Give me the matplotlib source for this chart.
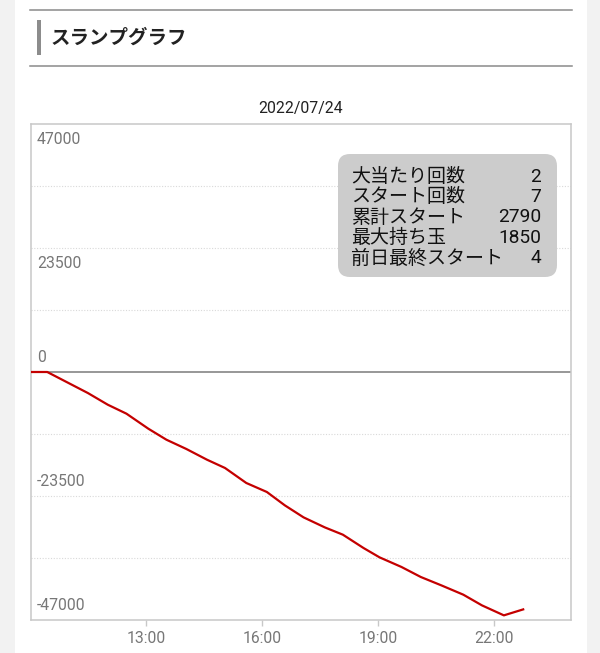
import matplotlib
matplotlib.use("Agg")
import matplotlib.pyplot as plt
from matplotlib.patches import Rectangle, FancyBboxPatch
from matplotlib.lines import Line2D
from matplotlib.transforms import Affine2D

# slump graph data (time -> balance)
times = ["10:00", "10:26", "11:29", "12:00", "12:29", "13:03", "13:31", "14:02",
         "14:34", "15:02", "15:35", "16:07", "16:35", "17:04", "17:37", "18:05",
         "18:37", "19:02", "19:36", "20:06", "20:38", "21:12", "21:41", "22:15", "22:45"]
balance = [0, 0, -3980, -6200, -7900, -10750, -12830, -14590,
           -16620, -18190, -21030, -22740, -25280, -27550, -29450, -30830,
           -33350, -35130, -36950, -38850, -40440, -42200, -44230, -46120, -44990]

x_ticks = [13, 16, 19, 22]
x_tick_labels = ["13:00", "16:00", "19:00", "22:00"]
y_labels = [47000, 23500, 0, -23500, -47000]
y_grid = [35250, 23500, 11750, -11750, -23500, -35250]

info_names = ["大当たり回数", "スタート回数", "累計スタート", "最大持ち玉", "前日最終スタート"]
info_values = ["2", "7", "2790", "1850", "4"]

title = "スランプグラフ"
date_label = "2022/07/24"

JP = ["Noto Sans CJK JP", "DejaVu Sans"]
NUM = ["Roboto", "DejaVu Sans"]

W, H = 600, 653
fig = plt.figure(figsize=(W / 100, H / 100), dpi=100)
fig.patch.set_facecolor("#f2f2f2")

# pixel coords from top-left
px = Affine2D().scale(1 / W, -1 / H).translate(0, 1) + fig.transFigure

fig.add_artist(Rectangle((15, 0), 572, H, transform=px, facecolor="white", edgecolor="none", zorder=0))

# header
fig.add_artist(Line2D([29.5, 572], [9.5, 9.5], transform=px, color="#8a8a8a", lw=1.1))
fig.add_artist(Line2D([29.5, 572], [65.5, 65.5], transform=px, color="#8a8a8a", lw=1.1))
fig.add_artist(Rectangle((36.5, 19.5), 4, 35.5, transform=px, facecolor="#8c8c8c", edgecolor="none"))
fig.text(51, 38, title, transform=px, family=JP, fontsize=14, fontweight="bold",
         color="#222222", va="center", ha="left")

ax = fig.add_axes([30.5 / W, 1 - 620 / H, 541 / W, 496 / H])
hours = [int(t.split(":")[0]) + int(t.split(":")[1]) / 60 for t in times]
ax.plot(hours, balance, color="#c40000", lw=1.6, zorder=3, solid_joinstyle="round")
ax.axhline(0, color="#7a7a7a", lw=1.1, zorder=2)

ax.set_xlim(10, 24)
ax.set_ylim(-47000, 47000)
ax.set_xticks(x_ticks)
ax.set_xticklabels(x_tick_labels, family=NUM, fontsize=11.3, color="#777777")
ax.tick_params(axis="x", length=4.5, width=1, color="#c8c8c8", pad=3.5)
ax.set_yticks(y_grid)
ax.set_yticklabels([])
ax.tick_params(axis="y", length=0)
ax.yaxis.grid(True, linestyle=(0, (1, 1.5)), color="#d9d9d9", lw=0.8)
for s in ax.spines.values():
    s.set_color("#c8c8c8")
    s.set_linewidth(1.1)

for v in y_labels:
    off = -16 if v > 0 else 14
    ax.annotate(str(v), xy=(0, v), xycoords=("axes fraction", "data"),
                xytext=(6.5, off), textcoords="offset pixels",
                family=NUM, fontsize=11.3, color="#777777", va="center", ha="left")

ax.set_title(date_label, family=NUM, fontsize=11.4, color="#222222", pad=8)

# info box
fig.add_artist(FancyBboxPatch((338, 154), 219, 123, transform=px,
                              boxstyle="round,pad=0,rounding_size=12",
                              facecolor="#cccccc", edgecolor="none", zorder=5))
for i, (name, val) in enumerate(zip(info_names, info_values)):
    y = 176.5 + i * 20.4
    fig.text(351, y, name, transform=px, family=JP, fontsize=13.7, color="#111111",
             va="center", ha="left", zorder=6)
    fig.text(541, y, val, transform=px, family=NUM, fontsize=13.8, color="#111111",
             va="center", ha="right", zorder=6)

fig.savefig("out.png", dpi=100, facecolor=fig.get_facecolor())
